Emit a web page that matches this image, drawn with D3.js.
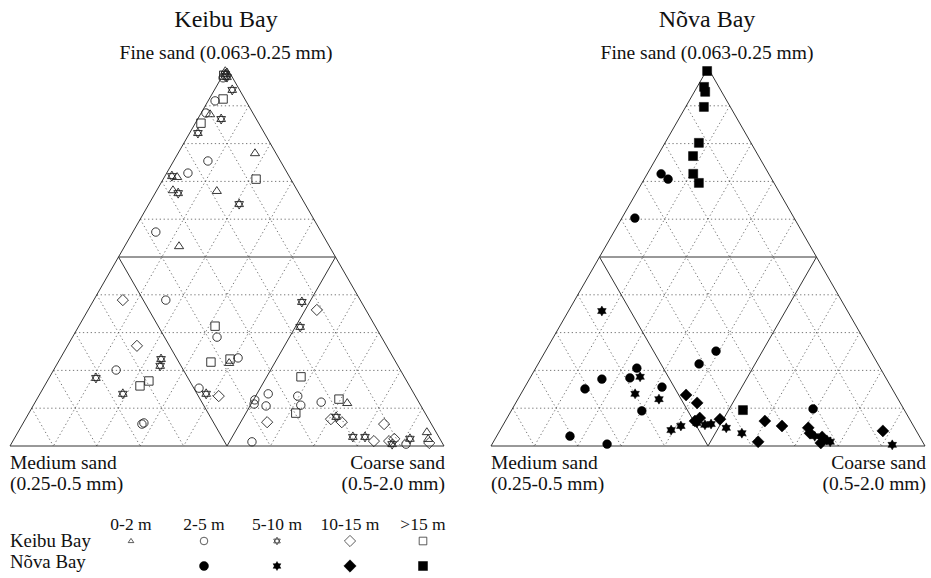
<!DOCTYPE html>
<html>
<head>
<meta charset="utf-8">
<script src="https://cdn.jsdelivr.net/npm/d3@7"></script>
<style>
  html, body { margin: 0; padding: 0; background: #fff; }
  svg text { font-family: "Liberation Serif", "Times New Roman", serif; fill: #111; }
</style>
</head>
<body>
<svg id="chart" width="931" height="578"></svg>
<script>
// ---------------- DATA: [fine %, medium %, coarse %] ----------------
const depthClasses = ["0-2 m", "2-5 m", "5-10 m", "10-15 m", ">15 m"];
const bays = ["Keibu Bay", "Nõva Bay"];
const gridTicks = [10, 20, 30, 40, 50, 60, 70, 80, 90];
const cornerLabels = [["Fine sand (0.063-0.25 mm)"], ["Medium sand", "(0.25-0.5 mm)"], ["Coarse sand", "(0.5-2.0 mm)"]];

// Keibu Bay
const keibu_0_2 = [
  [99.2, 0.8, 0], [87.8, 10.0, 2.2], [77.5, 4.8, 17.7], [71.2, 25.9, 2.9], [67.7, 28.6, 3.7],
  [67.5, 18.6, 13.9], [52.9, 34.6, 12.5], [22.0, 38.5, 39.5], [11.4, 16.6, 72.0], [3.7, 2.1, 94.2],
  [1.9, 2.7, 95.4]
];
const keibu_2_5 = [
  [97.4, 2.2, 0.4], [91.3, 7.1, 1.6], [88.1, 10.8, 1.1], [75.4, 16.7, 7.9], [72.2, 22.9, 4.9],
  [56.6, 38.1, 5.3], [38.6, 44.8, 16.6], [28.8, 37.9, 33.3], [23.3, 35.8, 40.9], [20.1, 65.5, 14.4],
  [15.3, 48.8, 35.9], [6.1, 66.1, 27.8], [5.8, 66.7, 27.5], [12.2, 37.5, 50.3], [11.1, 38.2, 50.7],
  [13.8, 33.6, 52.6], [10.6, 35.7, 53.7], [13.2, 27.1, 59.7], [10.8, 27.6, 61.6], [11.6, 22.5, 65.9],
  [1.1, 43.7, 55.2], [0.5, 8.5, 91.0]
];
const keibu_5_10 = [
  [98.4, 1.2, 0.4], [97.6, 1.2, 1.2], [94.2, 1.7, 4.1], [86.5, 8.1, 5.4], [82.8, 15.3, 1.9],
  [71.4, 27.0, 1.6], [66.9, 27.8, 5.3], [64.0, 15.2, 20.8], [38.1, 13.7, 48.2], [31.5, 17.4, 51.1],
  [23.0, 53.7, 23.3], [21.2, 54.8, 24.0], [18.0, 71.2, 10.8], [13.8, 67.1, 19.1], [13.8, 47.9, 38.3],
  [7.7, 21.0, 71.3], [2.4, 19.8, 77.8], [2.4, 17.0, 80.6], [0.5, 11.7, 87.8], [1.9, 6.9, 91.2]
];
const keibu_10_15 = [
  [97.9, 1.3, 0.8], [38.6, 54.7, 6.7], [36.0, 11.3, 52.7], [26.5, 57.5, 16.0], [13.2, 45.3, 41.5],
  [6.3, 37.6, 56.1], [7.1, 22.5, 70.4], [6.3, 20.4, 73.3], [5.8, 10.9, 83.3], [1.3, 15.5, 83.2],
  [1.3, 12.0, 86.7], [1.9, 10.5, 87.6], [0.8, 3.0, 96.2]
];
const keibu_15 = [
  [98.1, 1.7, 0.2], [91.8, 5.0, 3.2], [85.4, 13.3, 1.3], [70.6, 8.0, 21.4], [31.7, 36.9, 31.4],
  [22.2, 42.6, 35.2], [23.0, 37.8, 39.2], [17.2, 59.4, 23.4], [15.9, 62.1, 22.0], [18.3, 23.8, 57.9],
  [8.7, 29.8, 61.5], [12.4, 18.0, 69.6]
];

// Nõva Bay
const nova_2_5 = [
  [72.0, 24.8, 3.2], [70.6, 23.9, 5.5], [60.3, 36.7, 3.0], [25.1, 35.6, 39.3], [21.7, 41.2, 37.1],
  [20.6, 56.1, 23.3], [18.0, 59.0, 23.0], [17.7, 65.6, 16.7], [15.1, 70.8, 14.1], [15.6, 52.8, 31.6],
  [9.3, 60.6, 30.1], [9.8, 20.9, 69.3], [2.6, 80.5, 16.9], [0.5, 73.0, 26.5]
];
const nova_5_10 = [
  [35.7, 56.6, 7.7], [18.3, 56.5, 25.2], [13.8, 59.9, 26.3], [12.4, 55.1, 32.5], [6.1, 49.5, 44.4],
  [5.6, 47.9, 46.5], [5.8, 46.4, 47.8], [4.8, 43.4, 51.8], [4.2, 56.4, 39.4], [5.3, 53.6, 41.1],
  [3.4, 40.5, 56.1], [2.6, 24.1, 73.3], [1.6, 21.8, 76.6], [1.1, 21.3, 77.6], [0.3, 7.4, 92.3]
];
const nova_10_15 = [
  [13.5, 48.3, 38.2], [11.4, 46.8, 41.8], [7.4, 48.2, 44.4], [6.6, 49.7, 43.7], [7.1, 43.7, 49.2],
  [6.6, 33.6, 59.8], [5.3, 30.3, 64.4], [1.1, 37.9, 61.0], [4.8, 24.5, 70.7], [3.4, 24.8, 71.8],
  [2.4, 22.5, 75.1], [0.8, 23.6, 75.6], [4.0, 7.7, 88.3]
];
const nova_15 = [
  [99.2, 0.6, 0.2], [95.0, 3.4, 1.6], [93.7, 3.8, 2.5], [89.7, 6.1, 4.2], [80.2, 12.0, 7.8],
  [76.7, 15.1, 8.2], [72.0, 17.4, 10.6], [69.6, 17.3, 13.1], [9.5, 37.2, 53.3]
];

// ---------------- DRAWING ----------------
const svg = d3.select("#chart");

const shapes = ["triangle", "circle", "star", "diamond", "square"];

function shapePath(type, s) {
  const p = d3.path();
  if (type === "circle") {
    p.moveTo(s, 0); p.arc(0, 0, s, 0, 2 * Math.PI); p.closePath();
  } else if (type === "square") {
    p.rect(-s, -s, 2 * s, 2 * s);
  } else if (type === "diamond") {
    p.moveTo(0, -s); p.lineTo(s, 0); p.lineTo(0, s); p.lineTo(-s, 0); p.closePath();
  } else if (type === "triangle") {
    const h = s * 1.5;
    p.moveTo(0, -h * 0.62); p.lineTo(s, h * 0.38); p.lineTo(-s, h * 0.38); p.closePath();
  } else if (type === "star") {
    [[-90, 30, 150], [90, 210, 330]].forEach(angs => {
      angs.forEach((a, i) => {
        const r = a * Math.PI / 180;
        const x = s * Math.cos(r), y = s * Math.sin(r);
        if (i === 0) p.moveTo(x, y); else p.lineTo(x, y);
      });
      p.closePath();
    });
  }
  return p.toString();
}

const openSize = { triangle: 4.6, circle: 4.2, star: 5.0, diamond: 5.6, square: 4.2 };
const fillSize = { triangle: 4.6, circle: 4.4, star: 5.0, diamond: 6.0, square: 4.5 };

const panels = [
  { name: bays[0], xL: 10, xR: 444, yTop: 68, yBase: 446, cx: 226, filled: false,
    series: [keibu_0_2, keibu_2_5, keibu_5_10, keibu_10_15, keibu_15] },
  { name: bays[1], xL: 491, xR: 925, yTop: 68, yBase: 446, cx: 707, filled: true,
    series: [null, nova_2_5, nova_5_10, nova_10_15, nova_15] }
];

panels.forEach(P => {
  const x = d3.scaleLinear().domain([0, 100]).range([P.xL, P.xR]);
  const y = d3.scaleLinear().domain([0, 100]).range([P.yBase, P.yTop]);
  // p = [fine, medium, coarse]
  const proj = p => [x(p[2] + p[0] / 2), y(p[0])];
  const g = svg.append("g");

  // grid lines (three families)
  const lines = [];
  gridTicks.forEach(k => {
    lines.push({ k, a: [k, 100 - k, 0], b: [k, 0, 100 - k] });   // constant fine
    lines.push({ k, a: [100 - k, 0, k], b: [0, 100 - k, k] });   // constant coarse
    lines.push({ k, a: [100 - k, k, 0], b: [0, k, 100 - k] });   // constant medium
  });
  g.selectAll("line.grid").data(lines.filter(d => d.k !== 50)).join("line")
    .attr("class", "grid")
    .attr("x1", d => proj(d.a)[0]).attr("y1", d => proj(d.a)[1])
    .attr("x2", d => proj(d.b)[0]).attr("y2", d => proj(d.b)[1])
    .attr("stroke", "#555").attr("stroke-width", 0.8)
    .attr("stroke-dasharray", "1.3,2.6");
  g.selectAll("line.mid").data(lines.filter(d => d.k === 50)).join("line")
    .attr("class", "mid")
    .attr("x1", d => proj(d.a)[0]).attr("y1", d => proj(d.a)[1])
    .attr("x2", d => proj(d.b)[0]).attr("y2", d => proj(d.b)[1])
    .attr("stroke", "#333").attr("stroke-width", 1);

  // outline
  const corners = [[100, 0, 0], [0, 100, 0], [0, 0, 100]].map(proj);
  g.append("path")
    .attr("d", "M" + corners.map(c => c.join(",")).join("L") + "Z")
    .attr("fill", "none").attr("stroke", "#333").attr("stroke-width", 1);

  // titles & labels
  g.append("text").attr("x", P.cx).attr("y", 27).attr("text-anchor", "middle")
    .attr("font-size", 24).text(P.name);
  g.append("text").attr("x", P.cx).attr("y", 59).attr("text-anchor", "middle")
    .attr("font-size", 19.5).text(cornerLabels[0][0]);
  cornerLabels[1].forEach((t, i) => g.append("text").attr("x", P.xL).attr("y", 469 + i * 21)
    .attr("font-size", 19.5).text(t));
  cornerLabels[2].forEach((t, i) => g.append("text").attr("x", P.xR + 1).attr("y", 469 + i * 21)
    .attr("text-anchor", "end").attr("font-size", 19.5).text(t));

  // points
  P.series.forEach((data, si) => {
    if (!data) return;
    const type = shapes[si];
    const sz = P.filled ? fillSize[type] : openSize[type];
    g.append("g").selectAll("path").data(data).join("path")
      .attr("transform", d => `translate(${proj(d)[0]},${proj(d)[1]})`)
      .attr("d", shapePath(type, sz))
      .attr("fill", P.filled ? "#000" : "none")
      .attr("stroke", P.filled ? "#000" : "#222")
      .attr("stroke-width", P.filled ? 0.5 : 0.9);
  });
});

// ---------------- LEGEND ----------------
const legX = d3.scalePoint().domain(depthClasses).range([131, 423]);
const lg = svg.append("g");
lg.selectAll("text.hdr").data(depthClasses).join("text")
  .attr("class", "hdr").attr("x", d => legX(d)).attr("y", 530)
  .attr("text-anchor", "middle").attr("font-size", 17.5).text(d => d);
lg.append("text").attr("x", 10).attr("y", 547).attr("font-size", 18.8).text(bays[0]);
lg.append("text").attr("x", 10).attr("y", 568).attr("font-size", 18.8).text(bays[1]);
const legOpen = { triangle: 2.8, circle: 3.8, star: 3.8, diamond: 5.6, square: 3.8 };
const legFill = { circle: 4.5, star: 4.5, diamond: 6.2, square: 4.5 };
depthClasses.forEach((dc, i) => {
  const type = shapes[i];
  lg.append("path").attr("transform", `translate(${legX(dc)},541)`)
    .attr("d", shapePath(type, legOpen[type]))
    .attr("fill", "none").attr("stroke", "#333").attr("stroke-width", 0.8);
  if (i > 0) {
    lg.append("path").attr("transform", `translate(${legX(dc)},566)`)
      .attr("d", shapePath(type, legFill[type]))
      .attr("fill", "#000").attr("stroke", "#000").attr("stroke-width", 0.5);
  }
});
</script>
</body>
</html>
